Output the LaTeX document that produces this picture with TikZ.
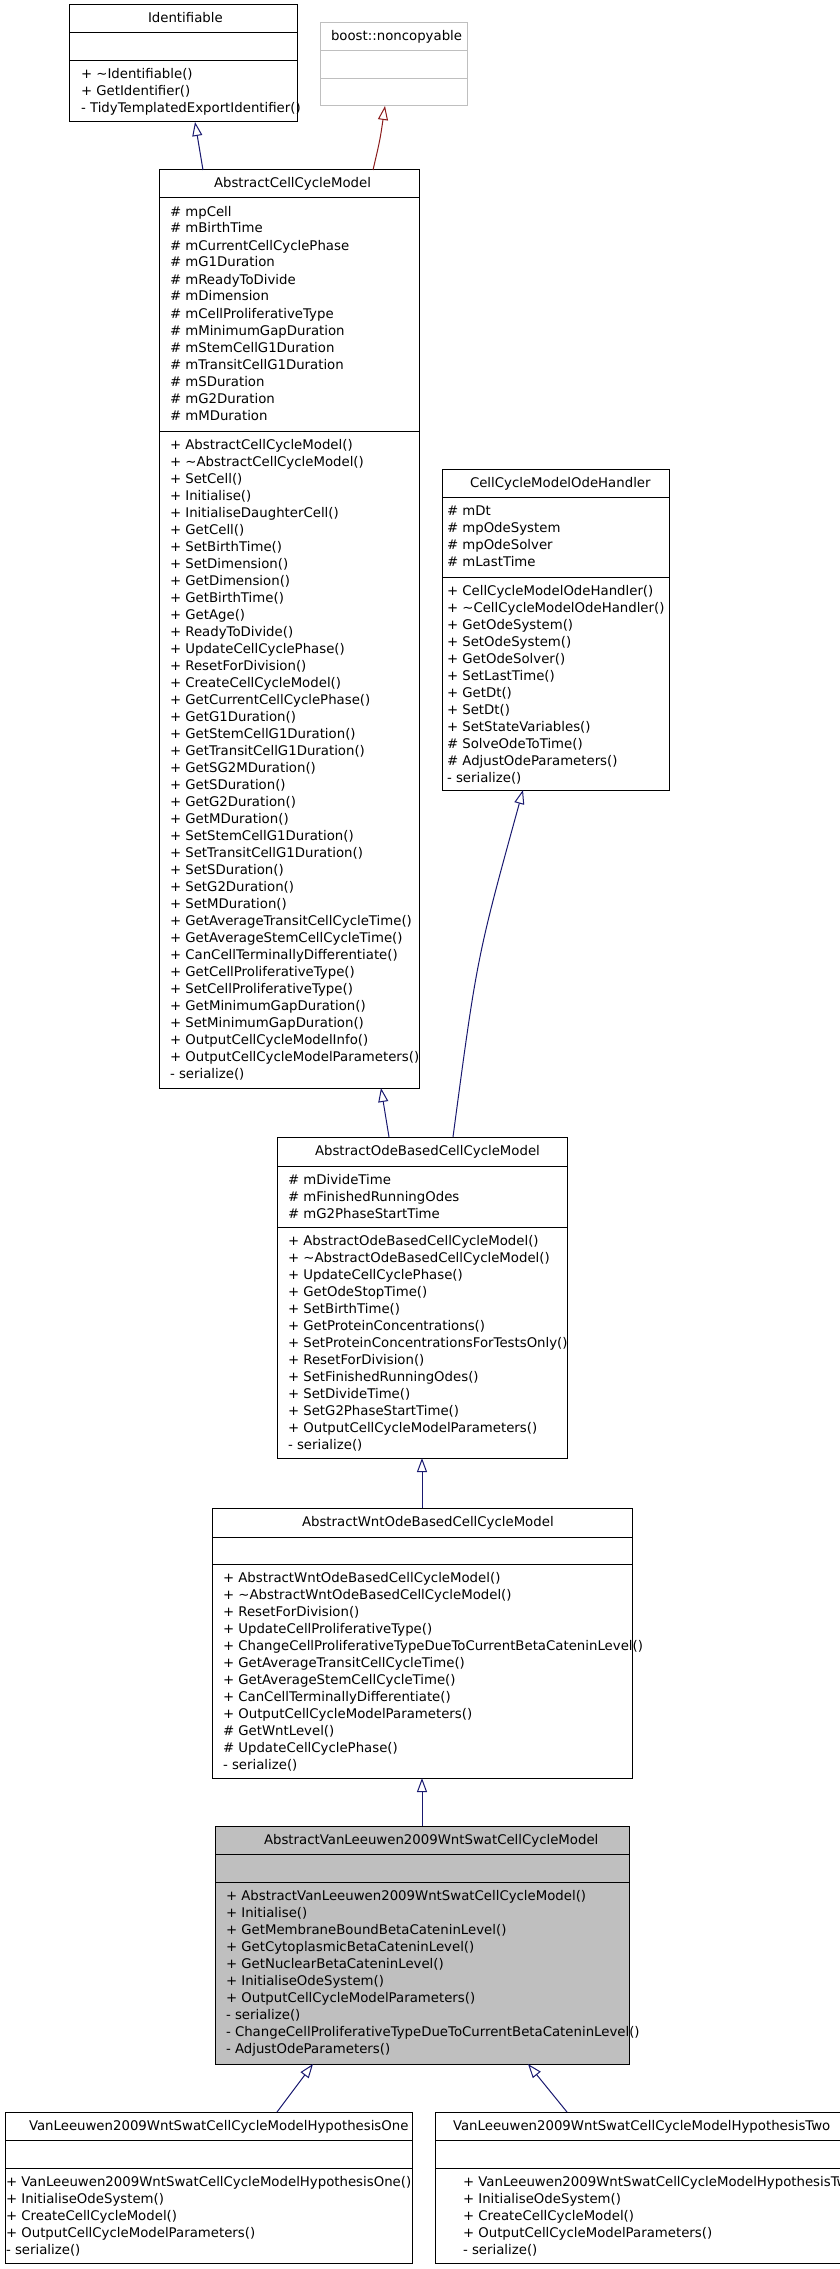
\documentclass[tikz,border=0pt]{standalone}
\usepackage{fontspec}
\setmainfont{DejaVu Sans}
\usetikzlibrary{arrows.meta,calc}
\definecolor{navy}{HTML}{191970}
\definecolor{darkred}{HTML}{8B1A1A}
\definecolor{boxgray}{HTML}{BFBFBF}
\newcommand{\fs}{\fontsize{13.3}{17}\selectfont}
\newcommand{\mlist}[1]{\begin{tabular}[t]{@{}l@{}}#1\end{tabular}}
\newcommand{\tl}{\textasciitilde}
\tikzset{
  cls/.style={draw=black, line width=1pt, fill=white, anchor=north west, inner sep=0pt, outer sep=0pt},
  divider/.style={draw=black, line width=1pt},
  txt/.style={anchor=base west, inner sep=0pt, outer sep=0pt, font=\fs},
  inh/.style={draw=navy, line width=1pt, -{Triangle[open,length=14pt,width=10pt]}},
  privinh/.style={inh, draw=darkred},
}
\begin{document}
\begin{tikzpicture}[x=1pt,y=-1pt]
\useasboundingbox (0,0) rectangle (840,2269);
\fill[white] (0,0) rectangle (840,2269);
\clip (0,0) rectangle (840,2269);

% ---------- Identifiable
\node[cls, minimum width=228pt, minimum height=117pt] (ident) at (69,5) {};
\draw[divider] ($(ident.north west)+(0,28)$) -- ($(ident.north east)+(0,28)$);
\draw[divider] ($(ident.north west)+(0,56)$) -- ($(ident.north east)+(0,56)$);
\node[txt] (ident-t) at (148,23) {Identifiable};
\node[txt] (ident-m) at (81,78.5) {\mlist{+ \tl Identifiable()\\+ GetIdentifier()\\- TidyTemplatedExportIdentifier()}};

% ---------- boost::noncopyable
\node[cls, draw=boxgray, minimum width=147pt, minimum height=83pt] (boost) at (320,23) {};
\draw[divider, draw=boxgray] ($(boost.north west)+(0,28)$) -- ($(boost.north east)+(0,28)$);
\draw[divider, draw=boxgray] ($(boost.north west)+(0,56)$) -- ($(boost.north east)+(0,56)$);
\node[txt] (boost-t) at (331,41) {boost::noncopyable};

% ---------- AbstractCellCycleModel
\node[cls, minimum width=260pt, minimum height=918pt] (accm) at (159,170) {};
\draw[divider] ($(accm.north west)+(0,28)$) -- ($(accm.north east)+(0,28)$);
\draw[divider] ($(accm.north west)+(0,261)$) -- ($(accm.north east)+(0,261)$);
\node[txt] (accm-t) at (214,188) {AbstractCellCycleModel};
\node[txt] (accm-a) at (170,216) {\mlist{\# mpCell\\\# mBirthTime\\\# mCurrentCellCyclePhase\\\# mG1Duration\\\# mReadyToDivide\\\# mDimension\\\# mCellProliferativeType\\\# mMinimumGapDuration\\\# mStemCellG1Duration\\\# mTransitCellG1Duration\\\# mSDuration\\\# mG2Duration\\\# mMDuration}};
\node[txt] (accm-m) at (170,449) {\mlist{+ AbstractCellCycleModel()\\+ \tl AbstractCellCycleModel()\\+ SetCell()\\+ Initialise()\\+ InitialiseDaughterCell()\\+ GetCell()\\+ SetBirthTime()\\+ SetDimension()\\+ GetDimension()\\+ GetBirthTime()\\+ GetAge()\\+ ReadyToDivide()\\+ UpdateCellCyclePhase()\\+ ResetForDivision()\\+ CreateCellCycleModel()\\+ GetCurrentCellCyclePhase()\\+ GetG1Duration()\\+ GetStemCellG1Duration()\\+ GetTransitCellG1Duration()\\+ GetSG2MDuration()\\+ GetSDuration()\\+ GetG2Duration()\\+ GetMDuration()\\+ SetStemCellG1Duration()\\+ SetTransitCellG1Duration()\\+ SetSDuration()\\+ SetG2Duration()\\+ SetMDuration()\\+ GetAverageTransitCellCycleTime()\\+ GetAverageStemCellCycleTime()\\+ CanCellTerminallyDifferentiate()\\+ GetCellProliferativeType()\\+ SetCellProliferativeType()\\+ GetMinimumGapDuration()\\+ SetMinimumGapDuration()\\+ OutputCellCycleModelInfo()\\+ OutputCellCycleModelParameters()\\- serialize()}};

% ---------- CellCycleModelOdeHandler
\node[cls, minimum width=227pt, minimum height=321pt] (handler) at (442,469) {};
\draw[divider] ($(handler.north west)+(0,28)$) -- ($(handler.north east)+(0,28)$);
\draw[divider] ($(handler.north west)+(0,108)$) -- ($(handler.north east)+(0,108)$);
\node[txt] (handler-t) at (470,487) {CellCycleModelOdeHandler};
\node[txt] (handler-a) at (447,515) {\mlist{\# mDt\\\# mpOdeSystem\\\# mpOdeSolver\\\# mLastTime}};
\node[txt] (handler-m) at (447,595) {\mlist{+ CellCycleModelOdeHandler()\\+ \tl CellCycleModelOdeHandler()\\+ GetOdeSystem()\\+ SetOdeSystem()\\+ GetOdeSolver()\\+ SetLastTime()\\+ GetDt()\\+ SetDt()\\+ SetStateVariables()\\\# SolveOdeToTime()\\\# AdjustOdeParameters()\\- serialize()}};

% ---------- AbstractOdeBasedCellCycleModel
\node[cls, minimum width=290pt, minimum height=321pt] (aob) at (277,1137) {};
\draw[divider] ($(aob.north west)+(0,29)$) -- ($(aob.north east)+(0,29)$);
\draw[divider] ($(aob.north west)+(0,90)$) -- ($(aob.north east)+(0,90)$);
\node[txt] (aob-t) at (315,1155) {AbstractOdeBasedCellCycleModel};
\node[txt] (aob-a) at (288,1184) {\mlist{\# mDivideTime\\\# mFinishedRunningOdes\\\# mG2PhaseStartTime}};
\node[txt] (aob-m) at (288,1245) {\mlist{+ AbstractOdeBasedCellCycleModel()\\+ \tl AbstractOdeBasedCellCycleModel()\\+ UpdateCellCyclePhase()\\+ GetOdeStopTime()\\+ SetBirthTime()\\+ GetProteinConcentrations()\\+ SetProteinConcentrationsForTestsOnly()\\+ ResetForDivision()\\+ SetFinishedRunningOdes()\\+ SetDivideTime()\\+ SetG2PhaseStartTime()\\+ OutputCellCycleModelParameters()\\- serialize()}};

% ---------- AbstractWntOdeBasedCellCycleModel
\node[cls, minimum width=420pt, minimum height=270pt] (awnt) at (212,1508) {};
\draw[divider] ($(awnt.north west)+(0,29)$) -- ($(awnt.north east)+(0,29)$);
\draw[divider] ($(awnt.north west)+(0,56)$) -- ($(awnt.north east)+(0,56)$);
\node[txt] (awnt-t) at (302,1526) {AbstractWntOdeBasedCellCycleModel};
\node[txt] (awnt-m) at (223,1582) {\mlist{+ AbstractWntOdeBasedCellCycleModel()\\+ \tl AbstractWntOdeBasedCellCycleModel()\\+ ResetForDivision()\\+ UpdateCellProliferativeType()\\+ ChangeCellProliferativeTypeDueToCurrentBetaCateninLevel()\\+ GetAverageTransitCellCycleTime()\\+ GetAverageStemCellCycleTime()\\+ CanCellTerminallyDifferentiate()\\+ OutputCellCycleModelParameters()\\\# GetWntLevel()\\\# UpdateCellCyclePhase()\\- serialize()}};

% ---------- AbstractVanLeeuwen2009WntSwatCellCycleModel
\node[cls, fill=boxgray, minimum width=414pt, minimum height=238pt] (avl) at (215,1826) {};
\draw[divider] ($(avl.north west)+(0,28)$) -- ($(avl.north east)+(0,28)$);
\draw[divider] ($(avl.north west)+(0,56)$) -- ($(avl.north east)+(0,56)$);
\node[txt] (avl-t) at (264,1844) {AbstractVanLeeuwen2009WntSwatCellCycleModel};
\node[txt] (avl-m) at (226,1900) {\mlist{+ AbstractVanLeeuwen2009WntSwatCellCycleModel()\\+ Initialise()\\+ GetMembraneBoundBetaCateninLevel()\\+ GetCytoplasmicBetaCateninLevel()\\+ GetNuclearBetaCateninLevel()\\+ InitialiseOdeSystem()\\+ OutputCellCycleModelParameters()\\- serialize()\\- ChangeCellProliferativeTypeDueToCurrentBetaCateninLevel()\\- AdjustOdeParameters()}};

% ---------- HypothesisOne
\node[cls, minimum width=407pt, minimum height=151pt] (hyp1) at (5,2112) {};
\draw[divider] ($(hyp1.north west)+(0,28)$) -- ($(hyp1.north east)+(0,28)$);
\draw[divider] ($(hyp1.north west)+(0,56)$) -- ($(hyp1.north east)+(0,56)$);
\node[txt] (hyp1-t) at (29,2130) {VanLeeuwen2009WntSwatCellCycleModelHypothesisOne};
\node[txt] (hyp1-m) at (6,2186) {\mlist{+ VanLeeuwen2009WntSwatCellCycleModelHypothesisOne()\\+ InitialiseOdeSystem()\\+ CreateCellCycleModel()\\+ OutputCellCycleModelParameters()\\- serialize()}};

% ---------- HypothesisTwo
\node[cls, minimum width=407pt, minimum height=151pt] (hyp2) at (435,2112) {};
\draw[divider] ($(hyp2.north west)+(0,28)$) -- ($(hyp2.north east)+(0,28)$);
\draw[divider] ($(hyp2.north west)+(0,56)$) -- ($(hyp2.north east)+(0,56)$);
\node[txt] (hyp2-t) at (453,2130) {VanLeeuwen2009WntSwatCellCycleModelHypothesisTwo};
\node[txt] (hyp2-m) at (463,2186) {\mlist{+ VanLeeuwen2009WntSwatCellCycleModelHypothesisTwo()\\+ InitialiseOdeSystem()\\+ CreateCellCycleModel()\\+ OutputCellCycleModelParameters()\\- serialize()}};

% ---------- connectors
\draw[inh] ($(accm.north west)+(44,0)$) -- ($(ident.south west)+(126,0)$);
\draw[privinh] ($(accm.north west)+(214,0)$) .. controls ($(accm.north west)+(221,-30)$) .. ($(boost.south west)+(65,0)$);
\draw[inh] ($(aob.north west)+(112,0)$) -- ($(accm.south west)+(222,0)$);
\draw[inh] ($(aob.north west)+(176,0)$) .. controls ($(aob.north west)+(200,-180)$) .. ($(handler.south west)+(81,0)$);
\draw[inh] ($(awnt.north west)+(210,0)$) -- ($(aob.south west)+(145,0)$);
\draw[inh] ($(avl.north west)+(207,0)$) -- ($(awnt.south west)+(210,0)$);
\draw[inh] ($(hyp1.north west)+(272,0)$) -- ($(avl.south west)+(98,0)$);
\draw[inh] ($(hyp2.north west)+(132,0)$) -- ($(avl.south west)+(313,0)$);
\end{tikzpicture}
\end{document}
